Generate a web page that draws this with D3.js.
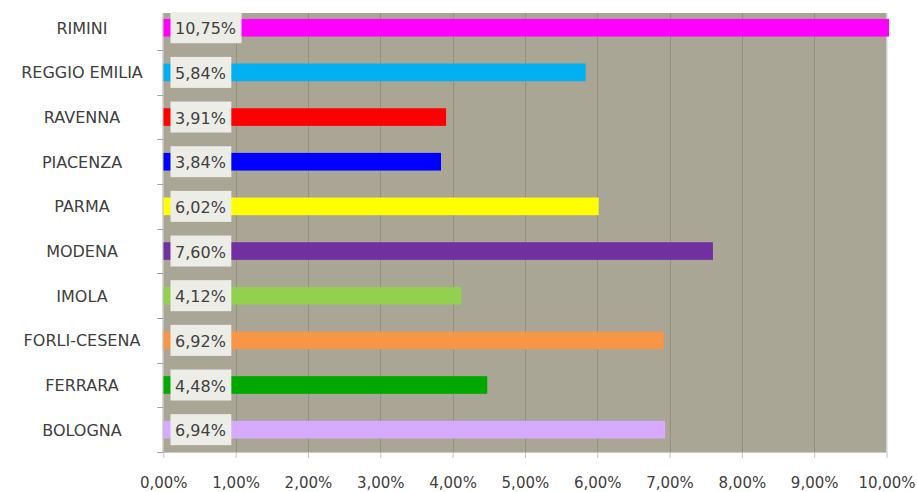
<!DOCTYPE html>
<html>
<head>
<meta charset="utf-8">
<script src="https://cdn.jsdelivr.net/npm/d3@7"></script>
<style>
  html, body { margin: 0; padding: 0; background: #ffffff; }
  svg { display: block; }
</style>
</head>
<body>
<svg id="chart" width="917" height="492"></svg>
<script>
// ---- data ----
const categories = ["RIMINI", "REGGIO EMILIA", "RAVENNA", "PIACENZA", "PARMA",
                    "MODENA", "IMOLA", "FORLI-CESENA", "FERRARA", "BOLOGNA"];
const values = [10.75, 5.84, 3.91, 3.84, 6.02, 7.60, 4.12, 6.92, 4.48, 6.94];
const barColors = ["#ff00ff", "#00b0f0", "#ff0000", "#0000ff", "#ffff00",
                   "#7030a0", "#92d050", "#f79646", "#00a800", "#d5aaff"];
const xTicks = [0, 1, 2, 3, 4, 5, 6, 7, 8, 9, 10];

const fmt = v => v.toFixed(2).replace(".", ",") + "%";

const svg = d3.select("#chart");
const plot = { left: 163.3, right: 886.5, top: 13, bottom: 452 };

const x = d3.scaleLinear().domain([0, 10]).range([plot.left, plot.right]);
const y = d3.scaleBand().domain(categories).range([5.4, plot.bottom]).paddingInner(0.605).paddingOuter(0.3025);
const yb = d3.scaleBand().domain(categories).range([5.4, plot.bottom]).padding(0);

// background
svg.append("rect")
  .attr("x", plot.left).attr("y", plot.top)
  .attr("width", plot.right - plot.left).attr("height", plot.bottom - plot.top)
  .attr("fill", "#aaa696");

// gridlines
svg.append("g").selectAll("line")
  .data(xTicks.filter(t => t > 0 && t < 10))
  .join("line")
  .attr("x1", d => Math.round(x(d)) + 0.5).attr("x2", d => Math.round(x(d)) + 0.5)
  .attr("y1", plot.top).attr("y2", plot.bottom)
  .attr("stroke", "#939080").attr("stroke-width", 1);

// right border / bottom line
svg.append("line")
  .attr("x1", plot.right + 0.5).attr("x2", plot.right + 0.5)
  .attr("y1", plot.top).attr("y2", plot.bottom)
  .attr("stroke", "#d0d0d0");

// bars
svg.append("g").selectAll("rect")
  .data(categories)
  .join("rect")
  .attr("x", x(0))
  .attr("y", d => y(d))
  .attr("width", (d, i) => Math.min(x(values[i]), x(10) + 2.5) - x(0))
  .attr("height", y.bandwidth())
  .attr("fill", (d, i) => barColors[i]);

// bottom axis
const xAxis = d3.axisBottom(x).tickValues(xTicks).tickFormat(d => fmt(d)).tickSize(6).tickPadding(19);
const gx = svg.append("g").attr("transform", `translate(0,${plot.bottom})`).call(xAxis);
gx.select(".domain").attr("stroke", "#c8c8c8").attr("d", `M${plot.left},0.5H${plot.right}`);
gx.selectAll(".tick line").attr("stroke", "#c0c0c0");
gx.selectAll(".tick text")
  .attr("font-family", "DejaVu Sans, sans-serif")
  .attr("font-size", "15px")
  .attr("fill", "#404040");

// left axis
const yAxis = d3.axisLeft(yb).tickSize(0).tickPadding(0).tickFormat("");
const gy = svg.append("g").attr("transform", `translate(${plot.left},0)`).call(yAxis);
gy.select(".domain").attr("stroke", "#c8c8c8").attr("d", `M-0.5,${plot.top}V${plot.bottom}`);
// tick marks at band boundaries
svg.append("g").selectAll("line")
  .data(categories)
  .join("line")
  .attr("x1", plot.left - 6).attr("x2", plot.left)
  .attr("y1", d => Math.round(yb(d) + yb.bandwidth()) + 0.5)
  .attr("y2", d => Math.round(yb(d) + yb.bandwidth()) + 0.5)
  .attr("stroke", "#a0a0a0");

// category labels
svg.append("g").selectAll("text")
  .data(categories)
  .join("text")
  .attr("x", 82)
  .attr("y", d => yb(d) + yb.bandwidth() / 2 + 6)
  .attr("text-anchor", "middle")
  .attr("font-family", "DejaVu Sans, sans-serif")
  .attr("font-size", "16px")
  .attr("fill", "#404040")
  .text(d => d);

// data labels with boxes
const lab = svg.append("g").selectAll("g")
  .data(categories)
  .join("g")
  .attr("transform", d => `translate(170.5,${yb(d) + yb.bandwidth() / 2})`);

lab.append("text")
  .attr("x", 4.5)
  .attr("y", 6.5)
  .attr("font-family", "DejaVu Sans, sans-serif")
  .attr("font-size", "16px")
  .attr("fill", "#404040")
  .text((d, i) => fmt(values[i]));

lab.each(function() {
  const g = d3.select(this);
  const w = g.select("text").node().getComputedTextLength();
  g.insert("rect", "text")
    .attr("x", 0).attr("y", -15.5)
    .attr("width", w + 10).attr("height", 31)
    .attr("fill", "#ededE8");
});
</script>
</body>
</html>
